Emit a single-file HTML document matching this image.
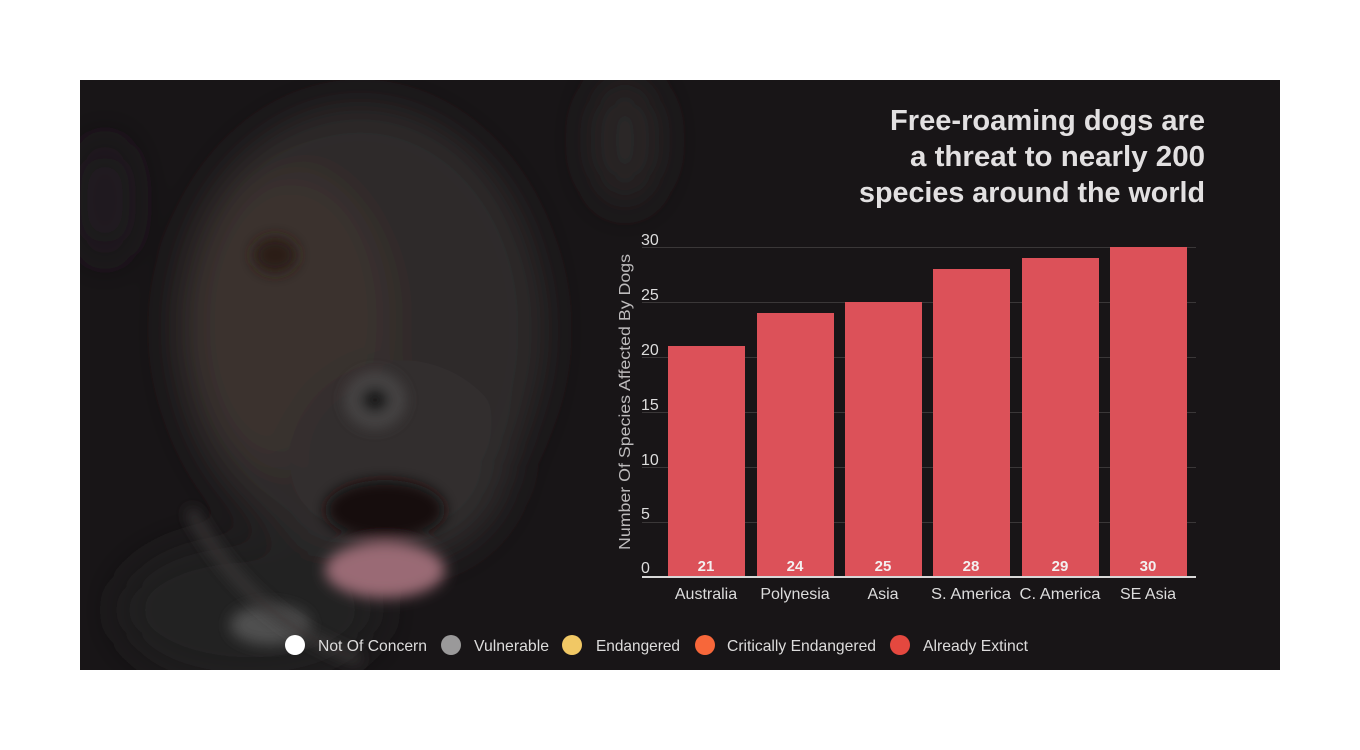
<!DOCTYPE html>
<html><head><meta charset="utf-8"><style>
html,body{margin:0;padding:0;background:#fff;}
svg{display:block;}
text{font-family:"Liberation Sans",sans-serif;}
</style></head><body>
<svg width="1360" height="750" viewBox="0 0 1360 750" xmlns="http://www.w3.org/2000/svg">
<defs>
<filter id="bl" x="-50%" y="-50%" width="200%" height="200%"><feGaussianBlur stdDeviation="20"/></filter>
<filter id="bl2" x="-50%" y="-50%" width="200%" height="200%"><feGaussianBlur stdDeviation="7"/></filter>
<clipPath id="cp"><rect x="80" y="80" width="1200" height="590"/></clipPath>
</defs>
<rect x="80" y="80" width="1200" height="590" fill="#181517"/>
<g clip-path="url(#cp)">
  <g filter="url(#bl)">
    <ellipse cx="360" cy="330" rx="185" ry="225" fill="#2e2a2b"/>
    <ellipse cx="290" cy="320" rx="100" ry="150" fill="#3a312f"/>
    <ellipse cx="400" cy="460" rx="110" ry="100" fill="#302d2e"/>
    <ellipse cx="250" cy="610" rx="130" ry="70" fill="#242122"/>
    <ellipse cx="625" cy="140" rx="35" ry="65" fill="#2c2627"/>
    <ellipse cx="105" cy="200" rx="25" ry="60" fill="#221f20"/>
  </g>
  <g filter="url(#bl2)">
    <ellipse cx="275" cy="255" rx="22" ry="18" fill="#2a1a17"/>
    <ellipse cx="375" cy="400" rx="30" ry="28" fill="#4a4647"/>
    <ellipse cx="375" cy="400" rx="15" ry="13" fill="#141213"/>
    <ellipse cx="385" cy="510" rx="60" ry="30" fill="#121011"/>
    <ellipse cx="385" cy="570" rx="60" ry="28" fill="#9a6a74"/>
    <ellipse cx="270" cy="625" rx="40" ry="20" fill="#4f4f4f"/>
  </g>
  <path d="M190 510 Q250 620 360 660" stroke="#3a3738" stroke-width="10" fill="none" filter="url(#bl2)"/>
</g>
<g fill="#e2e0e1" font-weight="bold" font-size="29" text-anchor="end">
  <text x="1205" y="130" textLength="315" lengthAdjust="spacingAndGlyphs">Free-roaming dogs are</text>
  <text x="1205" y="166" textLength="295" lengthAdjust="spacingAndGlyphs">a threat to nearly 200</text>
  <text x="1205" y="202" textLength="346" lengthAdjust="spacingAndGlyphs">species around the world</text>
</g>
<g stroke="#3a3738" stroke-width="1">
  <line x1="642" x2="1196" y1="247.5" y2="247.5"/>
  <line x1="642" x2="1196" y1="302.5" y2="302.5"/>
  <line x1="642" x2="1196" y1="357.5" y2="357.5"/>
  <line x1="642" x2="1196" y1="412.5" y2="412.5"/>
  <line x1="642" x2="1196" y1="467.5" y2="467.5"/>
  <line x1="642" x2="1196" y1="522.5" y2="522.5"/>
</g>
<g fill="#ddd" font-size="16">
  <text x="641" y="245">30</text>
  <text x="641" y="300">25</text>
  <text x="641" y="355">20</text>
  <text x="641" y="410">15</text>
  <text x="641" y="465">10</text>
  <text x="641" y="519">5</text>
  <text x="641" y="573">0</text>
</g>
<text transform="translate(630,402) rotate(-90)" text-anchor="middle" fill="#bdbbbc" font-size="16" textLength="296" lengthAdjust="spacingAndGlyphs">Number Of Species Affected By Dogs</text>
<g fill="#dc5159">
  <rect x="668" y="346" width="77" height="231"/>
  <rect x="757" y="313" width="77" height="264"/>
  <rect x="845" y="302" width="77" height="275"/>
  <rect x="933" y="269" width="77" height="308"/>
  <rect x="1022" y="258" width="77" height="319"/>
  <rect x="1110" y="247" width="77" height="330"/>
</g>
<line x1="642" x2="1196" y1="577" y2="577" stroke="#d8d8d8" stroke-width="2"/>
<g fill="#f3f0f0" font-size="15" font-weight="bold" text-anchor="middle">
  <text x="706" y="571">21</text>
  <text x="795" y="571">24</text>
  <text x="883" y="571">25</text>
  <text x="971" y="571">28</text>
  <text x="1060" y="571">29</text>
  <text x="1148" y="571">30</text>
</g>
<g fill="#dcdcdc" font-size="16" text-anchor="middle">
  <text x="706" y="599">Australia</text>
  <text x="795" y="599">Polynesia</text>
  <text x="883" y="599">Asia</text>
  <text x="971" y="599" textLength="80" lengthAdjust="spacingAndGlyphs">S. America</text>
  <text x="1060" y="599" textLength="81" lengthAdjust="spacingAndGlyphs">C. America</text>
  <text x="1148" y="599">SE Asia</text>
</g>
<circle cx="295" cy="645" r="10" fill="#ffffff"/>
<circle cx="451" cy="645" r="10" fill="#9a999a"/>
<circle cx="572" cy="645" r="10" fill="#f1c865"/>
<circle cx="705" cy="645" r="10" fill="#f7673a"/>
<circle cx="900" cy="645" r="10" fill="#e4483f"/>
<g fill="#dddcdc" font-size="16">
  <text x="318" y="651" textLength="109" lengthAdjust="spacingAndGlyphs">Not Of Concern</text>
  <text x="474" y="651" textLength="75" lengthAdjust="spacingAndGlyphs">Vulnerable</text>
  <text x="596" y="651" textLength="84" lengthAdjust="spacingAndGlyphs">Endangered</text>
  <text x="727" y="651" textLength="149" lengthAdjust="spacingAndGlyphs">Critically Endangered</text>
  <text x="923" y="651" textLength="105" lengthAdjust="spacingAndGlyphs">Already Extinct</text>
</g>
</svg>
</body></html>
